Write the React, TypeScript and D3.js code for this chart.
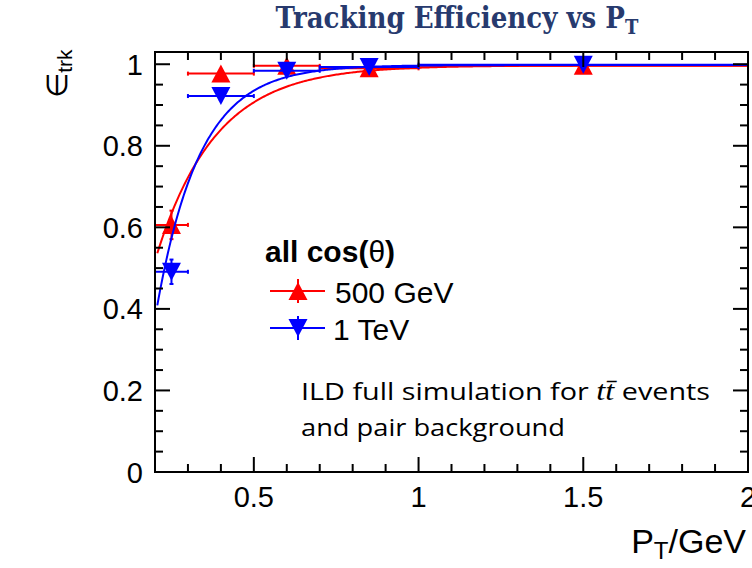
import React from "react";
import * as d3 from "d3";

// ---- data ----
const ptCenters = [0.25, 0.4, 0.6, 0.85, 1.5];
const ptLow = [0.2, 0.3, 0.5, 0.7, 1.0];
const ptHigh = [0.3, 0.5, 0.7, 1.0, 2.0];
const eff500 = [0.606, 0.977, 0.996, 0.99, 0.996];
const err500 = [0.035, 0.008, 0.004, 0.003, 0.002];
const eff1TeV = [0.491, 0.922, 0.984, 0.993, 0.999];
const err1TeV = [0.03, 0.01, 0.005, 0.003, 0.002];
// fit: plateau * (1 - exp(-(pt - x0)/tau))
const fit500 = [0.997, 0.068, 0.18];
const fit1TeV = [0.998, 0.138, 0.131];
const fitRange = [0.207, 2.0];
const xMajorTicks = [0.5, 1, 1.5, 2];
const xTickLabels = ["0.5", "1", "1.5", "2"];
const yMajorTicks = [0, 0.2, 0.4, 0.6, 0.8, 1];
const yTickLabels = ["0", "0.2", "0.4", "0.6", "0.8", "1"];
const seriesNames = ["500 GeV", "1 TeV"];

const RED = "#ff0000";
const BLUE = "#0000ff";

export default function App() {
  const L = 155, R = 748, T = 52, B = 472;
  const x = d3.scaleLinear().domain([0.2, 2]).range([L, R]);
  const y = d3.scaleLinear().domain([0, 1.03]).range([B, T]);
  const font = "'Liberation Sans', Arial, Helvetica, sans-serif";
  const noteFont = "'Open Sans', 'DejaVu Sans', sans-serif";

  const xMinor = d3.range(0.3, 2.0, 0.1).filter((v) => !xMajorTicks.some((m) => Math.abs(m - v) < 1e-6));
  const yMinor = d3.range(0.05, 1.03, 0.05).filter((v) => !yMajorTicks.some((m) => Math.abs(m - v) < 1e-6));

  const fitFn = (p: number[], v: number) => p[0] * (1 - Math.exp(-(v - p[1]) / p[2]));
  const samples = d3.range(fitRange[0], fitRange[1] + 1e-9, 0.004);
  const line = d3
    .line<number[]>()
    .x((d) => x(d[0]))
    .y((d) => y(d[1]));
  const curve500 = line(samples.map((v) => [v, fitFn(fit500, v)]));
  const curve1TeV = line(samples.map((v) => [v, fitFn(fit1TeV, v)]));

  const TW = 19, TH = 18;
  const triUp = (cx: number, cy: number) =>
    `M${cx},${cy - TH / 2}L${cx + TW / 2},${cy + TH / 2}L${cx - TW / 2},${cy + TH / 2}Z`;
  const triDown = (cx: number, cy: number) =>
    `M${cx},${cy + TH / 2}L${cx + TW / 2},${cy - TH / 2}L${cx - TW / 2},${cy - TH / 2}Z`;

  const drawSeries = (eff: number[], err: number[], color: string, up: boolean) => (
    <g>
      {ptCenters.map((c, i) => {
        const cx = x(c), cy = y(eff[i]);
        const x0 = x(ptLow[i]), x1 = x(ptHigh[i]);
        const y0 = y(eff[i] - err[i]), y1 = y(eff[i] + err[i]);
        return (
          <g key={i}>
            <line x1={x0} x2={x1} y1={cy} y2={cy} stroke={color} strokeWidth={2} />
            <line x1={x0} x2={x0} y1={cy - 2} y2={cy + 2} stroke={color} strokeWidth={2} />
            <line x1={x1} x2={x1} y1={cy - 2} y2={cy + 2} stroke={color} strokeWidth={2} />
            <line x1={cx} x2={cx} y1={y0} y2={y1} stroke={color} strokeWidth={2} />
            <line x1={cx - 2} x2={cx + 2} y1={y0} y2={y0} stroke={color} strokeWidth={2} />
            <line x1={cx - 2} x2={cx + 2} y1={y1} y2={y1} stroke={color} strokeWidth={2} />
            <path d={up ? triUp(cx, cy) : triDown(cx, cy)} fill={color} />
          </g>
        );
      })}
    </g>
  );

  return (
    <svg
      width={752}
      height={568}
      style={{ position: "absolute", left: 0, top: 0, background: "#fff" }}
      xmlns="http://www.w3.org/2000/svg"
    >
      <rect x={0} y={0} width={752} height={568} fill="#fff" />
      {/* title */}
      <text
        x={457}
        y={28}
        textAnchor="middle"
        fontFamily="'DejaVu Serif Condensed', 'DejaVu Serif', serif"
        fontStretch="condensed"
        fontWeight="bold"
        fontSize={29}
        fill="#273a6e"
      >
        Tracking Efficiency vs P
        <tspan fontSize={20} dy={6}>T</tspan>
      </text>

      <defs>
        <clipPath id="plotclip">
          <rect x={L} y={T} width={R - L} height={B - T} />
        </clipPath>
      </defs>

      {/* curves and points */}
      <g clipPath="url(#plotclip)">
        <path d={curve500 || ""} fill="none" stroke={RED} strokeWidth={2} />
        {drawSeries(eff500, err500, RED, true)}
        <path d={curve1TeV || ""} fill="none" stroke={BLUE} strokeWidth={2} />
        {drawSeries(eff1TeV, err1TeV, BLUE, false)}
      </g>

      {/* frame */}
      <rect x={L} y={T} width={R - L} height={B - T} fill="none" stroke="#000" strokeWidth={2} />

      {/* x ticks */}
      {xMajorTicks.map((v) => (
        <g key={"xM" + v}>
          <line x1={x(v)} x2={x(v)} y1={B} y2={B - 15} stroke="#000" strokeWidth={2} />
          <line x1={x(v)} x2={x(v)} y1={T} y2={T + 15} stroke="#000" strokeWidth={2} />
        </g>
      ))}
      {xMinor.map((v) => (
        <g key={"xm" + v}>
          <line x1={x(v)} x2={x(v)} y1={B} y2={B - 8} stroke="#000" strokeWidth={2} />
          <line x1={x(v)} x2={x(v)} y1={T} y2={T + 8} stroke="#000" strokeWidth={2} />
        </g>
      ))}
      {/* y ticks */}
      {yMajorTicks.map((v) => (
        <g key={"yM" + v}>
          <line x1={L} x2={L + 15} y1={y(v)} y2={y(v)} stroke="#000" strokeWidth={2} />
          <line x1={R} x2={R - 15} y1={y(v)} y2={y(v)} stroke="#000" strokeWidth={2} />
        </g>
      ))}
      {yMinor.map((v) => (
        <g key={"ym" + v}>
          <line x1={L} x2={L + 8} y1={y(v)} y2={y(v)} stroke="#000" strokeWidth={2} />
          <line x1={R} x2={R - 8} y1={y(v)} y2={y(v)} stroke="#000" strokeWidth={2} />
        </g>
      ))}

      {/* tick labels */}
      {xMajorTicks.map((v, i) => (
        <text key={"xl" + v} x={x(v)} y={507} textAnchor="middle" fontFamily={font} fontSize={29}>
          {xTickLabels[i]}
        </text>
      ))}
      {yMajorTicks.map((v, i) => (
        <text key={"yl" + v} x={143} y={y(v) + 10.5} textAnchor="end" fontFamily={font} fontSize={29}>
          {yTickLabels[i]}
        </text>
      ))}

      {/* axis titles */}
      <text x={746} y={553} textAnchor="end" fontFamily={font} fontSize={34}>
        P<tspan fontSize={24} dy={6}>T</tspan>
        <tspan dy={-6}>/GeV</tspan>
      </text>
      <text transform="translate(67,98) rotate(-90)" fontFamily="'DejaVu Sans', sans-serif" fontSize={29}>
        ∈<tspan fontFamily={font} fontSize={21} dy={5}>trk</tspan>
      </text>

      {/* legend */}
      <text x={265} y={262} fontFamily={font} fontSize={30} fontWeight="bold">
        all cos(<tspan fontWeight="normal">θ</tspan>)
      </text>
      <g>
        <line x1={270} x2={325} y1={291} y2={291} stroke={RED} strokeWidth={2} />
        <line x1={298} x2={298} y1={279} y2={303} stroke={RED} strokeWidth={2} />
        <path d={triUp(298, 291)} fill={RED} />
        <text x={335} y={303} fontFamily={font} fontSize={30}>{seriesNames[0]}</text>
        <line x1={270} x2={325} y1={328} y2={328} stroke={BLUE} strokeWidth={2} />
        <line x1={298} x2={298} y1={316} y2={340} stroke={BLUE} strokeWidth={2} />
        <path d={triDown(298, 328)} fill={BLUE} />
        <text x={333} y={340} fontFamily={font} fontSize={30}>{seriesNames[1]}</text>
      </g>

      {/* annotation */}
      <text x={301} y={400} fontFamily={noteFont} fontSize={24} textLength={409} lengthAdjust="spacingAndGlyphs">
        ILD full simulation for{" "}
        <tspan fontFamily="'Liberation Serif', serif" fontStyle="italic" fontSize={27}>
          t{"t\u0304"}
        </tspan>{" "}
        events
      </text>
      <text x={301} y={436} fontFamily={noteFont} fontSize={24} textLength={264} lengthAdjust="spacingAndGlyphs">
        and pair background
      </text>
    </svg>
  );
}
